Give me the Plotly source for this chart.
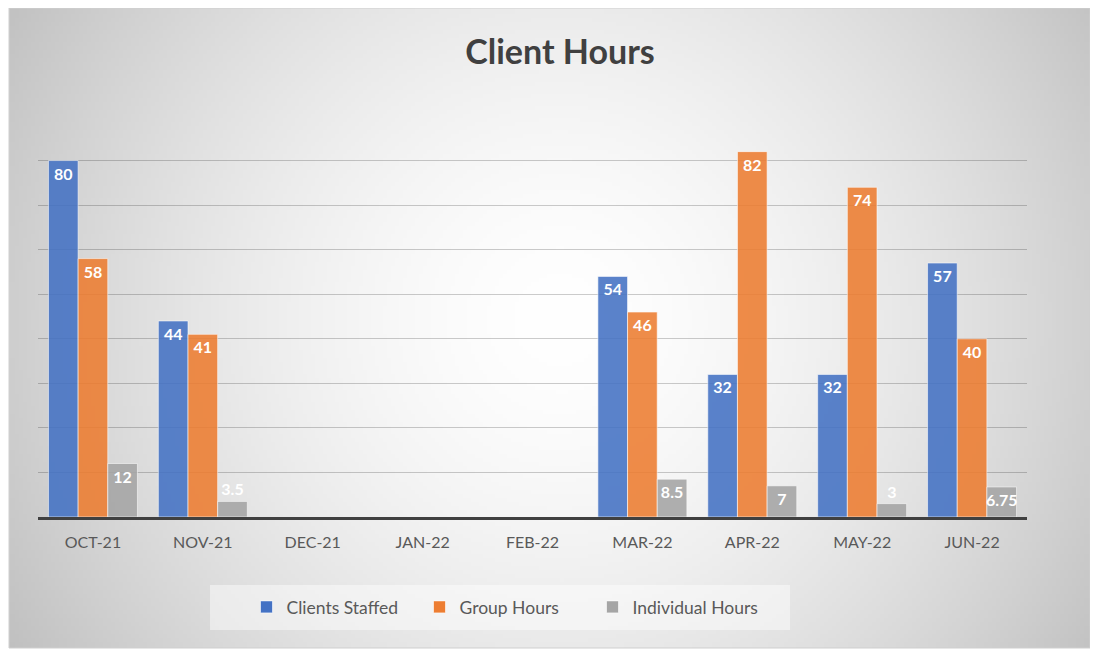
import base64, struct, zlib
import numpy as np
import plotly.graph_objects as go

months = ["OCT-21", "NOV-21", "DEC-21", "JAN-22", "FEB-22", "MAR-22", "APR-22", "MAY-22", "JUN-22"]
clients_staffed = [80, 44, None, None, None, 54, 32, 32, 57]
group_hours = [58, 41, None, None, None, 46, 82, 74, 40]
individual_hours = [12, 3.5, None, None, None, 8.5, 7, 3, 6.75]

OFF = 8  # page body margin
W, H = 1098 - OFF, 655 - OFF
L, T = 38 - OFF, 116 - OFF
R = W - (1027 - OFF)
B = H - (517 - OFF)
PW, PH = W - L - R, H - T - B


def px2paper(x, y):
    """reference-screenshot pixel -> paper coordinate"""
    return (x - OFF - L) / PW, (H - B - (y - OFF)) / PH


def gradient_png(w, h):
    ys, xs = np.mgrid[0:h, 0:w]
    fx = 9 + xs / (w - 1) * (1090 - 9)
    fy = 8 + ys / (h - 1) * (648 - 8)
    d = np.sqrt((fx - 560) ** 2 + (fy - 320) ** 2) / 640.0
    v = 255 - 62 * np.clip(d, 0, 1.2) ** 1.6
    img = np.clip(v, 0, 255).astype(np.uint8)
    rgb = np.stack([img, img, img], axis=-1)
    raw = b"".join(b"\x00" + rgb[r].tobytes() for r in range(h))

    def chunk(t, data):
        c = struct.pack(">I", len(data)) + t + data
        return c + struct.pack(">I", zlib.crc32(t + data) & 0xffffffff)

    png = b"\x89PNG\r\n\x1a\n" + chunk(b"IHDR", struct.pack(">IIBBBBB", w, h, 8, 2, 0, 0, 0))
    png += chunk(b"IDAT", zlib.compress(raw, 9)) + chunk(b"IEND", b"")
    return "data:image/png;base64," + base64.b64encode(png).decode()


fx0, fy1 = px2paper(9, 8)
fx1, fy0 = px2paper(1090, 648)

colors = ["#4472C4", "#ED7D31", "#A5A5A5"]
names = ["Clients Staffed", "Group Hours", "Individual Hours"]
series = [clients_staffed, group_hours, individual_hours]

fig = go.Figure()
for name, vals, col in zip(names, series, colors):
    text = ["" if v is None else ("%g" % v) for v in vals]
    pos = ["inside" if (v is not None and v >= 5) else "outside" for v in vals]
    fig.add_trace(go.Bar(
        x=months, y=vals, name=name, text=text, textposition=pos, textangle=0,
        insidetextanchor="end", constraintext="none", cliponaxis=False,
        textfont=dict(family="Lato", size=16, color="white", weight="bold"),
        marker=dict(color=col, opacity=0.88, line=dict(color="rgba(255,255,255,0.6)", width=1)),
    ))

lx0, ly1 = px2paper(210, 585)
lx1, ly0 = px2paper(790, 630)

fig.update_layout(
    width=W, height=H,
    margin=dict(l=L, r=R, t=T, b=B),
    paper_bgcolor="white", plot_bgcolor="rgba(0,0,0,0)",
    barmode="group", bargap=0.19, bargroupgap=0,
    font=dict(family="Lato", color="#595959"),
    title=dict(text="<b>Client Hours</b>", x=(560 - OFF) / W, xanchor="center",
               y=1 - (52 - OFF) / H, yanchor="middle", xref="container", yref="container",
               font=dict(family="Lato", size=34, color="#404040")),
    showlegend=True,
    legend=dict(orientation="h", x=px2paper(506, 0)[0], xanchor="center", y=px2paper(0, 607)[1], yanchor="middle",
                bgcolor="rgba(0,0,0,0)", font=dict(family="Lato", size=17.5, color="#595959"),
                itemwidth=30, entrywidth=128, traceorder="normal"),
    xaxis=dict(showline=True, linecolor="#404040", linewidth=3, ticks="", tickfont=dict(size=16, color="#595959"),
               ticklabelstandoff=9, showgrid=False),
    yaxis=dict(range=[0, 90], dtick=10, showticklabels=False, showgrid=True, gridcolor="rgba(0,0,0,0.2)",
               gridwidth=1, zeroline=False, showline=False),
    images=[dict(source=gradient_png(270, 160), xref="paper", yref="paper", x=fx0, y=fy1,
                 sizex=fx1 - fx0, sizey=fy1 - fy0, xanchor="left", yanchor="top", sizing="stretch", layer="below")],
    shapes=[
        dict(type="rect", xref="paper", yref="paper", x0=fx0, x1=fx1, y0=fy0, y1=fy1,
             line=dict(color="#cfcfcf", width=1), fillcolor="rgba(0,0,0,0)", layer="below"),
        dict(type="rect", xref="paper", yref="paper", x0=lx0, x1=lx1, y0=ly0, y1=ly1,
             line=dict(width=0), fillcolor="rgba(255,255,255,0.45)", layer="below"),
    ],
)

fig.write_html("out.html")
